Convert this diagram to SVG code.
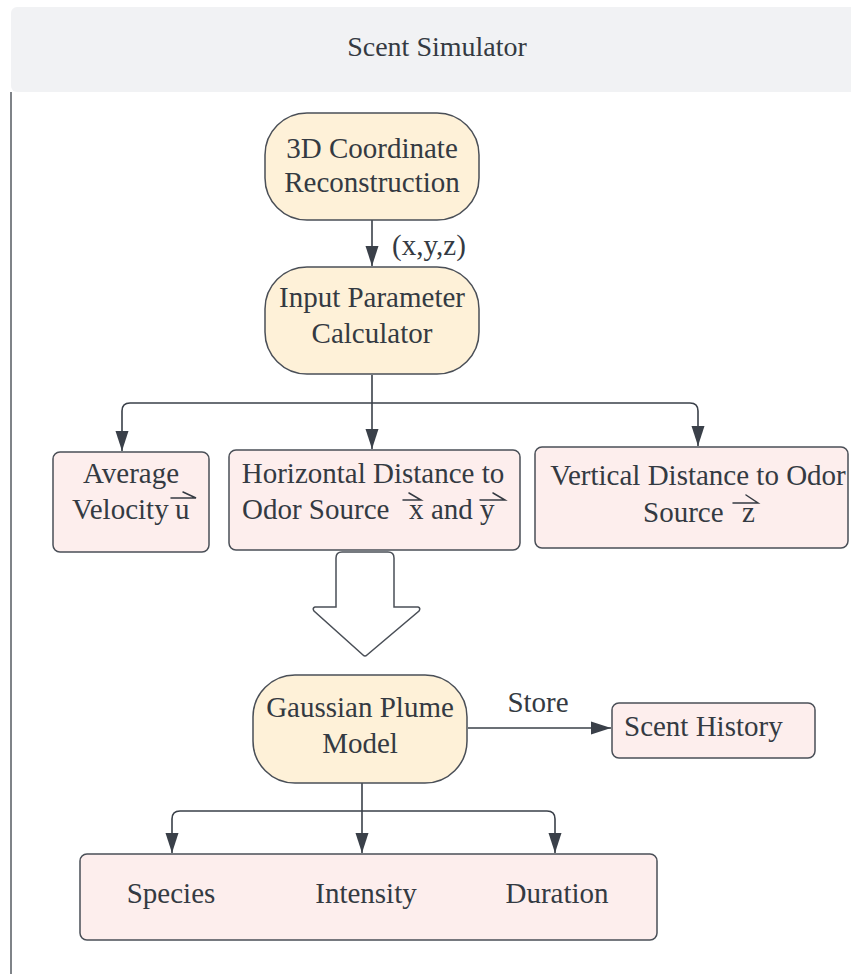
<svg xmlns="http://www.w3.org/2000/svg" width="851" height="974" viewBox="0 0 851 974">
  <style>
    .t { font-family: "Liberation Serif", "Times New Roman", serif; font-size: 29px; fill: #343a42; }
    .mid { text-anchor: middle; }
    .term { fill: #fef1d8; stroke: #4a4f57; stroke-width: 1.5; }
    .proc { fill: #fdeeed; stroke: #4a4f57; stroke-width: 1.5; }
    .edge { fill: none; stroke: #3a4049; stroke-width: 1.6; }
    .vec { fill: none; stroke: #343a42; stroke-width: 1.5; stroke-linecap: round; }
  </style>
  <defs>
    <marker id="ah" viewBox="0 0 20 14" refX="20" refY="7" markerWidth="20" markerHeight="14" markerUnits="userSpaceOnUse" orient="auto">
      <path d="M0,0.5 L20,7 L0,13.5 Z" fill="#3a4049"/>
    </marker>
  </defs>

  <rect width="851" height="974" fill="#ffffff"/>

  <!-- swimlane header -->
  <g id="lane">
    <rect x="11" y="7" width="852" height="85" rx="6" fill="#f1f2f4"/>
    <line x1="11" y1="92" x2="11" y2="974" stroke="#555a61" stroke-width="1.5"/>
    <text class="t mid" x="437" y="56" style="font-size:28px">Scent Simulator</text>
  </g>

  <!-- connectors -->
  <g id="connectors">
    <line class="edge" x1="372" y1="220" x2="372" y2="266" marker-end="url(#ah)"/>
    <path class="edge" d="M372,375 L372,449" marker-end="url(#ah)"/>
    <path class="edge" d="M372,403 L130,403 Q122,403 122,411 L122,451" marker-end="url(#ah)"/>
    <path class="edge" d="M372,403 L690,403 Q698,403 698,411 L698,446" marker-end="url(#ah)"/>
    <path class="edge" d="M468,728 L611,728" marker-end="url(#ah)"/>
    <path class="edge" d="M362,783 L362,853" marker-end="url(#ah)"/>
    <path class="edge" d="M362,811 L180,811 Q172,811 172,819 L172,853" marker-end="url(#ah)"/>
    <path class="edge" d="M362,811 L547,811 Q555,811 555,819 L555,853" marker-end="url(#ah)"/>
    <text class="t" x="392" y="255">(x,y,z)</text>
    <text class="t mid" x="538" y="712">Store</text>
    <!-- hollow block arrow -->
    <path d="M342,552 L388,552 Q394,552 394,558 L394,607 L418,607 Q421,608 419,611 L367,655 Q365,657 363,655 L314,611 Q312,608 315,607 L336,607 L336,558 Q336,552 342,552 Z" fill="#ffffff" stroke="#4a4f57" stroke-width="1.5"/>
  </g>

  <g id="coord">
    <rect class="term" x="265" y="113" width="214" height="107" rx="42"/>
    <text class="t mid" x="372" y="158">3D Coordinate</text>
    <text class="t mid" x="372" y="192">Reconstruction</text>
  </g>

  <g id="inputcalc">
    <rect class="term" x="265" y="267" width="214" height="107" rx="42"/>
    <text class="t mid" x="372" y="307">Input Parameter</text>
    <text class="t mid" x="372" y="343">Calculator</text>
  </g>

  <g id="velocity">
    <rect class="proc" x="53" y="452" width="156" height="100" rx="7"/>
    <text class="t mid" x="131" y="483">Average</text>
    <text class="t" x="72" y="519">Velocity <tspan x="175">u</tspan></text>
    <path class="vec" d="M171,498 L196,498 L183,492"/>
  </g>

  <g id="horizontal">
    <rect class="proc" x="229" y="450" width="291" height="100" rx="7"/>
    <text class="t mid" x="373" y="483">Horizontal Distance to</text>
    <text class="t" y="519"><tspan x="242">Odor Source</tspan><tspan x="409">x</tspan><tspan x="431">and</tspan><tspan x="480">y</tspan></text>
    <path class="vec" d="M403,500 L421,500 L409,493"/>
    <path class="vec" d="M480,500 L505,500 L493,493"/>
  </g>

  <g id="vertical">
    <rect class="proc" x="535" y="447" width="313" height="101" rx="7"/>
    <text class="t mid" x="698" y="485">Vertical Distance to Odor</text>
    <text class="t" y="522"><tspan x="643">Source</tspan><tspan x="742">z</tspan></text>
    <path class="vec" d="M733,503 L758,503 L746,495"/>
  </g>

  <g id="plume">
    <rect class="term" x="253" y="675" width="214" height="108" rx="42"/>
    <text class="t mid" x="360" y="717">Gaussian Plume</text>
    <text class="t mid" x="360" y="753">Model</text>
  </g>

  <g id="history">
    <rect class="proc" x="612" y="703" width="203" height="55" rx="7"/>
    <text class="t" x="624" y="736">Scent History</text>
  </g>

  <g id="outputs">
    <rect class="proc" x="80" y="854" width="577" height="86" rx="7"/>
    <text class="t mid" x="171" y="903">Species</text>
    <text class="t mid" x="366" y="903">Intensity</text>
    <text class="t mid" x="557" y="903">Duration</text>
  </g>
</svg>
